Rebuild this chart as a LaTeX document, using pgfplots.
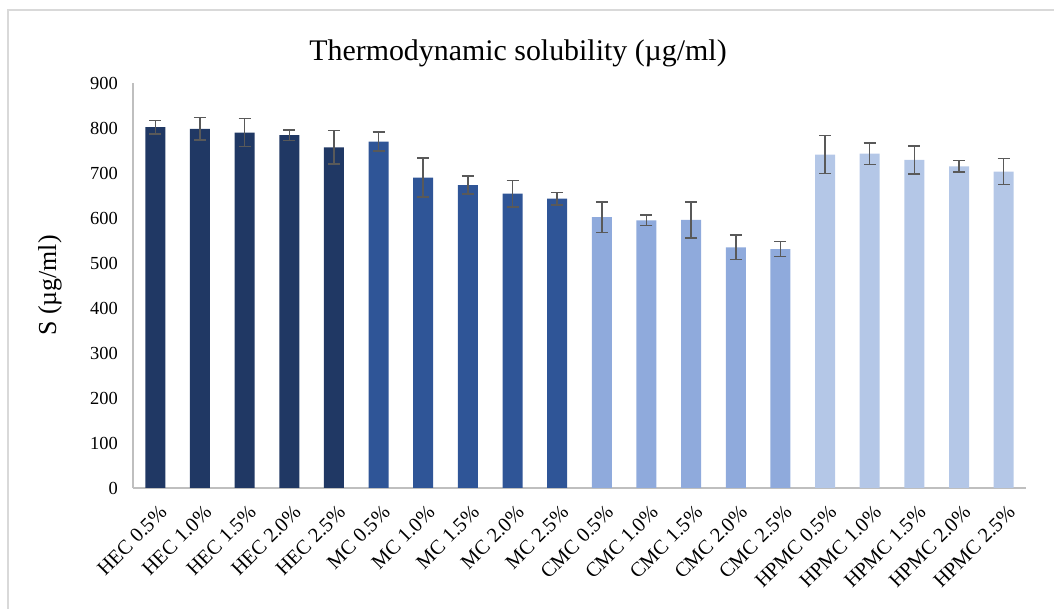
\documentclass[border=0pt]{standalone}
\usepackage{pgfplots}
\usepackage{pgfplotstable}
\pgfplotsset{compat=1.18}
\usepackage{fontspec}
\setmainfont{Liberation Serif}

\definecolor{hec}{HTML}{203864}
\definecolor{mc}{HTML}{2F5597}
\definecolor{cmc}{HTML}{8FAADC}
\definecolor{hpmc}{HTML}{B4C7E7}
\definecolor{errgray}{HTML}{595959}
\definecolor{axisgray}{HTML}{BFBFBF}
\definecolor{framegray}{HTML}{D9D9D9}

% solubility (ug/ml) with standard deviation, one table per polymer
\pgfplotstableread{
x y err
0 802 15
1 798 25
2 790 31
3 784 12
4 757 37
}\hecdata
\pgfplotstableread{
x y err
5 770 21
6 690 43
7 673 20
8 654 29
9 643 14
}\mcdata
\pgfplotstableread{
x y err
10 602 34
11 595 12
12 596 40
13 535 27
14 531 17
}\cmcdata
\pgfplotstableread{
x y err
15 741 42
16 743 24
17 729 31
18 715 13
19 703 29
}\hpmcdata

\pgfplotsset{
  solbar/.style={
    fill=#1, draw=none,
    error bars/.cd,
      y dir=both, y explicit,
      error bar style={line width=1.5bp, color=errgray},
      error mark options={rotate=90, line width=1.5bp, mark size=6bp, color=errgray},
  },
}

\begin{document}
\begin{tikzpicture}
\useasboundingbox (0,0) rectangle (1054bp,609bp);
% chart frame
\draw[framegray, line width=1.5bp] (8bp,0) -- (8bp,599bp) -- (1054bp,599bp);

\begin{axis}[
  at={(133bp,121bp)}, anchor=south west,
  scale only axis,
  width=893bp, height=405bp,
  ybar, bar width=20bp, bar shift=0pt,
  xmin=-0.5, xmax=19.5,
  ymin=0, ymax=900,
  ytick={0,100,...,900},
  xtick={0,...,19},
  xticklabels={HEC 0.5\%, HEC 1.0\%, HEC 1.5\%, HEC 2.0\%, HEC 2.5\%,
               MC 0.5\%, MC 1.0\%, MC 1.5\%, MC 2.0\%, MC 2.5\%,
               CMC 0.5\%, CMC 1.0\%, CMC 1.5\%, CMC 2.0\%, CMC 2.5\%,
               HPMC 0.5\%, HPMC 1.0\%, HPMC 1.5\%, HPMC 2.0\%, HPMC 2.5\%},
  /pgf/number format/assume math mode=true,
  major tick length=0pt,
  separate axis lines,
  axis x line*=bottom, axis y line*=left,
  axis line style={draw=axisgray, line width=1.3bp, -},
  yticklabel style={font=\fontsize{18.5}{20}\selectfont, inner sep=0pt, anchor=east, xshift=-15bp},
  xticklabel style={font=\fontsize{20.5}{22}\selectfont, inner sep=0pt,
                    xshift=3bp, yshift=-16bp, rotate=45, anchor=north east},
  ylabel={S (µg/ml)},
  every axis y label/.style={at={(axis description cs:-0.093,0.5)}, rotate=90,
                             anchor=center, font=\fontsize{26}{28}\selectfont},
  clip=false,
]
\addplot[solbar=hec]  table[x=x, y=y, y error=err] {\hecdata};
\addplot[solbar=mc]   table[x=x, y=y, y error=err] {\mcdata};
\addplot[solbar=cmc]  table[x=x, y=y, y error=err] {\cmcdata};
\addplot[solbar=hpmc] table[x=x, y=y, y error=err] {\hpmcdata};
\end{axis}

\node[anchor=base, font=\fontsize{30}{32}\selectfont] at (518bp,548bp) {Thermodynamic solubility (µg/ml)};
\end{tikzpicture}
\end{document}
